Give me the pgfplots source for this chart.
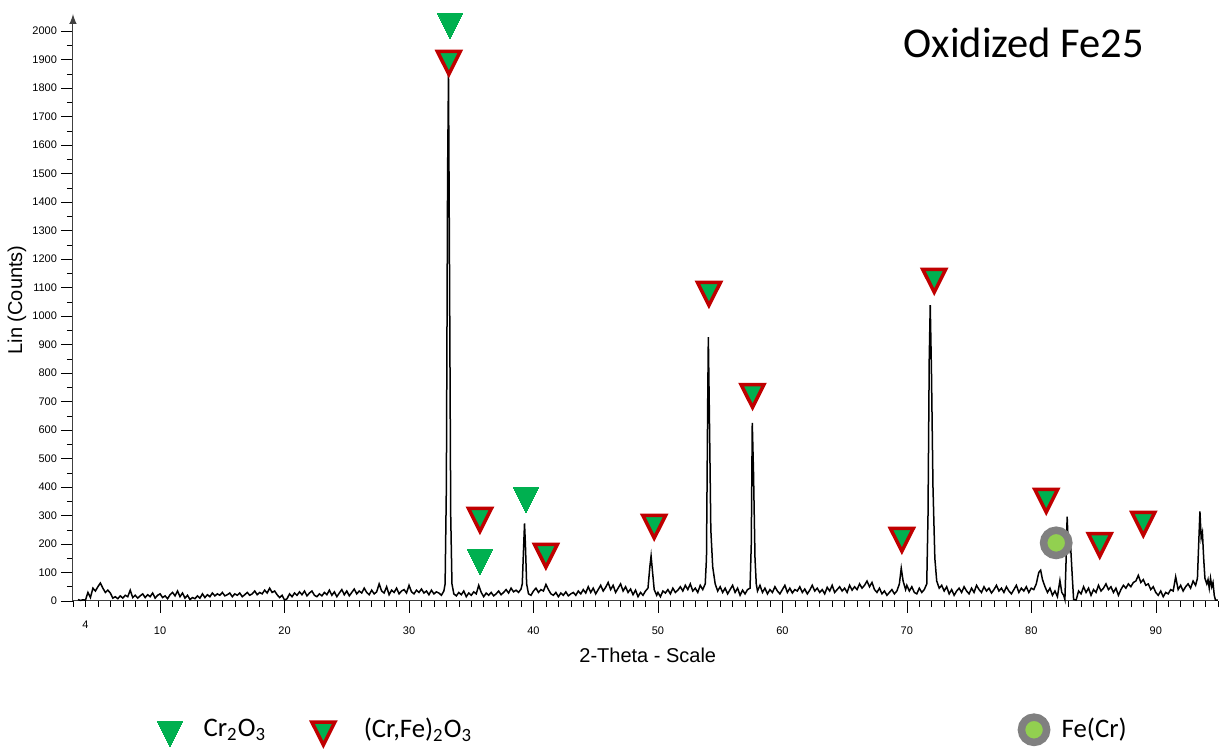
\documentclass[border=0pt]{standalone}
\usepackage{pgfplots}
\pgfplotsset{compat=1.18}
\usepackage{fontspec}
\setmainfont{Liberation Sans}
\newfontfamily\calibri{Carlito}
\definecolor{cgreen}{HTML}{00B050}
\definecolor{cred}{HTML}{C00000}
\definecolor{cgray}{HTML}{808080}
\definecolor{clight}{HTML}{92D050}
\begin{document}
\begin{tikzpicture}
\path[use as bounding box] (-29.2pt,-61.2pt) rectangle (458.8pt,240.4pt);
\begin{axis}[
  scale only axis, width=458pt, height=234.8pt,
  at={(0,0)}, anchor=south west,
  xmin=3, xmax=95, ymin=0, ymax=2060,
  axis x line=bottom, axis y line=left,
  x axis line style={-, black!75},
  y axis line style={-latex, black!75},
  tick align=outside,
  xtick={10,20,...,90},
  extra x ticks={4},
  extra x tick style={major tick length=2.3pt},
  minor xtick={3,4,...,95},
  ytick={0,100,...,2000},
  minor ytick={50,150,...,1950},
  major tick length=4.7pt, minor tick length=2.4pt,
  tick style={black},
  /pgf/number format/assume math mode=true,
  /pgf/number format/1000 sep={},
  ticklabel style={font=\fontsize{4.4}{5}\selectfont},
  xticklabel style={yshift=-2pt},
  yticklabel style={xshift=1.8pt},
  every axis x label/.style={at={(rel axis cs:0.502,0)}, yshift=-21.6pt, anchor=center},
  every axis y label/.style={at={(rel axis cs:0,0.513)}, xshift=-22.4pt, rotate=90, anchor=center},
  label style={font=\fontsize{8}{9}\selectfont},
  xlabel={2-Theta - Scale},
  ylabel={Lin (Counts)},
  clip=false,
  legend columns=3,
  legend style={draw=none, fill=none, inner sep=0pt, at={(rel axis cs:0,0)}, anchor=west, xshift=33.6pt, yshift=-51.6pt,
    font=\calibri\fontsize{10.7}{12}\selectfont,
    /tikz/column 1/.style={column sep=6.4pt},
    /tikz/column 2/.style={column sep=16.2pt},
    /tikz/column 3/.style={column sep=9.6pt},
    /tikz/column 4/.style={column sep=217.6pt},
    /tikz/column 5/.style={column sep=4pt}},
]
\addplot[black, line width=0.6pt, mark=none, forget plot] coordinates {
(3.4,5)(3.6,2)(3.8,4)(4.0,3)(4.2,30)(4.4,12)(4.6,45)(4.8,35)(5.0,50)(5.2,63)(5.4,45)(5.6,30)(5.8,38)(6.0,28)(6.2,10)(6.4,15)(6.6,8)(6.8,18)(7.0,10)(7.2,20)(7.4,15)(7.6,38)(7.8,12)(8.0,20)(8.2,10)(8.4,18)(8.6,25)(8.8,12)(9.0,22)(9.2,15)(9.4,28)(9.6,10)(9.8,20)
(10.0,25)(10.2,12)(10.4,18)(10.6,8)(10.8,22)(11.0,30)(11.2,18)(11.4,35)(11.6,15)(11.8,28)(12.0,10)(12.2,20)(12.4,5)(12.6,12)(12.8,8)(13.0,18)(13.2,10)(13.4,25)(13.6,12)(13.8,22)(14.0,15)(14.2,28)(14.4,18)(14.6,25)(14.8,20)(15.0,30)(15.2,18)(15.4,22)(15.6,28)(15.8,15)(16.0,25)(16.2,20)(16.4,28)(16.6,15)(16.8,22)(17.0,30)(17.2,20)(17.4,25)(17.6,35)(17.8,22)(18.0,30)(18.2,25)(18.4,38)(18.6,28)(18.8,45)(19.0,30)(19.2,35)(19.4,22)(19.6,12)(19.8,20)
(20.0,3)(20.2,8)(20.4,25)(20.6,15)(20.8,28)(21.0,20)(21.2,32)(21.4,22)(21.6,35)(21.8,18)(22.0,28)(22.2,35)(22.4,20)(22.6,15)(22.8,25)(23.0,18)(23.2,30)(23.4,22)(23.6,38)(23.8,20)(24.0,32)(24.2,15)(24.4,28)(24.6,40)(24.8,22)(25.0,35)(25.2,18)(25.4,30)(25.6,42)(25.8,25)(26.0,35)(26.2,28)(26.4,45)(26.6,30)(26.8,22)(27.0,38)(27.2,25)(27.4,32)(27.6,60)(27.8,35)(28.0,28)(28.2,50)(28.4,22)(28.6,38)(28.8,30)(29.0,45)(29.2,25)(29.4,35)(29.6,40)(29.8,28)
(30.0,55)(30.2,32)(30.4,25)(30.6,38)(30.8,30)(31.0,42)(31.2,28)(31.4,35)(31.6,22)(31.8,38)(32.0,25)(32.2,32)(32.4,28)(32.6,20)(32.8,35)(32.9,60)(33.0,400)(33.1,1500)(33.17,1845)(33.25,1200)(33.35,300)(33.45,60)(33.6,25)(33.8,18)(34.0,30)(34.2,22)(34.4,35)(34.6,15)(34.8,28)(35.0,20)(35.2,32)(35.4,25)(35.6,55)(35.8,30)(36.0,15)(36.2,28)(36.4,20)(36.6,30)(36.8,18)(37.0,25)(37.2,35)(37.4,22)(37.6,30)(37.8,40)(38.0,28)(38.2,45)(38.4,32)(38.6,38)(38.8,30)(39.0,42)(39.1,60)(39.2,180)(39.28,272)(39.35,200)(39.45,60)(39.6,25)(39.8,20)
(40.0,35)(40.2,45)(40.4,30)(40.6,40)(40.8,35)(41.0,58)(41.2,40)(41.4,25)(41.6,20)(41.8,30)(42.0,15)(42.2,28)(42.4,20)(42.6,32)(42.8,18)(43.0,25)(43.2,30)(43.4,20)(43.6,35)(43.8,25)(44.0,40)(44.2,28)(44.4,50)(44.6,30)(44.8,45)(45.0,25)(45.2,40)(45.4,55)(45.6,35)(45.8,48)(46.0,65)(46.2,40)(46.4,55)(46.6,30)(46.8,45)(47.0,60)(47.2,35)(47.4,50)(47.6,30)(47.8,42)(48.0,22)(48.2,38)(48.4,15)(48.6,30)(48.8,20)(49.0,35)(49.2,45)(49.35,120)(49.45,158)(49.55,110)(49.7,40)(49.9,20)
(50.0,30)(50.2,15)(50.4,35)(50.6,28)(50.8,40)(51.0,25)(51.2,45)(51.4,30)(51.6,38)(51.8,50)(52.0,35)(52.2,55)(52.4,40)(52.6,60)(52.8,35)(53.0,45)(53.2,30)(53.4,55)(53.6,40)(53.8,60)(53.9,150)(54.0,700)(54.05,926)(54.15,600)(54.25,250)(54.4,120)(54.6,60)(54.8,35)(55.0,50)(55.2,30)(55.4,45)(55.6,25)(55.8,40)(56.0,55)(56.2,30)(56.4,45)(56.6,20)(56.8,38)(57.0,25)(57.2,40)(57.4,45)(57.5,200)(57.58,625)(57.68,450)(57.8,150)(57.9,60)(58.0,35)(58.2,55)(58.4,30)(58.6,45)(58.8,25)(59.0,40)(59.2,30)(59.4,50)(59.6,35)(59.8,25)
(60.0,40)(60.2,55)(60.4,30)(60.6,45)(60.8,28)(61.0,40)(61.2,35)(61.4,50)(61.6,30)(61.8,42)(62.0,25)(62.2,38)(62.4,55)(62.6,35)(62.8,45)(63.0,30)(63.2,40)(63.4,25)(63.6,48)(63.8,35)(64.0,55)(64.2,30)(64.4,40)(64.6,50)(64.8,35)(65.0,45)(65.2,30)(65.4,55)(65.6,38)(65.8,50)(66.0,40)(66.2,60)(66.4,45)(66.6,55)(66.8,70)(67.0,50)(67.2,65)(67.4,40)(67.6,30)(67.8,45)(68.0,25)(68.2,35)(68.4,20)(68.6,30)(68.8,40)(69.0,25)(69.2,35)(69.4,60)(69.55,115)(69.7,70)(69.9,40)
(70.0,55)(70.2,35)(70.4,50)(70.6,30)(70.8,25)(71.0,45)(71.2,30)(71.4,40)(71.6,60)(71.7,300)(71.8,850)(71.88,1038)(71.98,800)(72.1,400)(72.25,150)(72.4,70)(72.6,45)(72.8,55)(73.0,35)(73.2,50)(73.4,25)(73.6,40)(73.8,20)(74.0,35)(74.2,45)(74.4,30)(74.6,50)(74.8,35)(75.0,25)(75.2,45)(75.4,30)(75.6,55)(75.8,40)(76.0,30)(76.2,50)(76.4,35)(76.6,45)(76.8,28)(77.0,40)(77.2,55)(77.4,35)(77.6,45)(77.8,30)(78.0,50)(78.2,35)(78.4,25)(78.6,40)(78.8,55)(79.0,30)(79.2,45)(79.4,35)(79.6,50)(79.8,30)
(80.0,45)(80.2,40)(80.4,60)(80.6,100)(80.75,108)(80.9,75)(81.1,50)(81.3,30)(81.5,45)(81.7,20)(81.9,35)(82.1,15)(82.3,72)(82.45,30)(82.6,20)(82.7,5)(82.8,150)(82.88,296)(82.95,220)(83.05,180)(83.15,200)(83.3,80)(83.4,5)(83.6,3)(83.8,35)(84.0,25)(84.2,50)(84.4,30)(84.6,45)(84.8,20)(85.0,40)(85.2,30)(85.4,55)(85.6,35)(85.8,45)(86.0,60)(86.2,40)(86.4,50)(86.6,30)(86.8,45)(87.0,20)(87.2,40)(87.4,55)(87.6,45)(87.8,60)(88.0,50)(88.2,65)(88.4,70)(88.6,90)(88.8,65)(89.0,75)(89.2,55)(89.4,60)(89.6,40)(89.8,50)
(90.0,30)(90.2,20)(90.4,35)(90.6,15)(90.8,30)(91.0,25)(91.2,40)(91.4,35)(91.6,85)(91.8,40)(92.0,55)(92.2,35)(92.4,50)(92.6,60)(92.8,45)(93.0,70)(93.2,55)(93.35,80)(93.45,200)(93.55,314)(93.65,220)(93.75,240)(93.85,150)(93.95,80)(94.1,60)(94.2,75)(94.3,45)(94.4,80)(94.5,50)(94.6,65)(94.7,20)(94.8,3)(95.0,3)
};
% Cr2O3 markers
\addplot[cgreen, only marks, mark=triangle*, mark size=5.8pt, mark options={yscale=-1.18, fill=cgreen, draw=cgreen, line width=0pt}]
  coordinates {(33.3,2033)(35.7,152)(39.4,369)};
\addlegendentry{Cr\textsubscript{2}O\textsubscript{3}}
% (Cr,Fe)2O3 markers
\addplot[cred, only marks, mark=triangle*, mark size=5.3pt, mark options={yscale=-1.15, fill=cgreen, draw=cred, line width=1.4pt}]
  coordinates {(33.2,1902)(35.7,298)(41.0,172)(49.7,274)(54.1,1091)(57.6,733)(69.6,228)(72.2,1137)(81.2,365)(85.5,210)(89.0,284)};
\addlegendentry{(Cr,Fe)\textsubscript{2}O\textsubscript{3}}
% Fe(Cr)
\addplot[cgray, only marks, mark=*, mark size=5.05pt, mark options={fill=clight, draw=cgray, line width=3pt}]
  coordinates {(82.0,204)};
\addlegendentry{Fe(Cr)}
\node[font=\calibri\fontsize{17}{20}\selectfont, anchor=center] at (axis cs:79.4,1958) {Oxidized Fe25};
\end{axis}
\end{tikzpicture}
\end{document}
